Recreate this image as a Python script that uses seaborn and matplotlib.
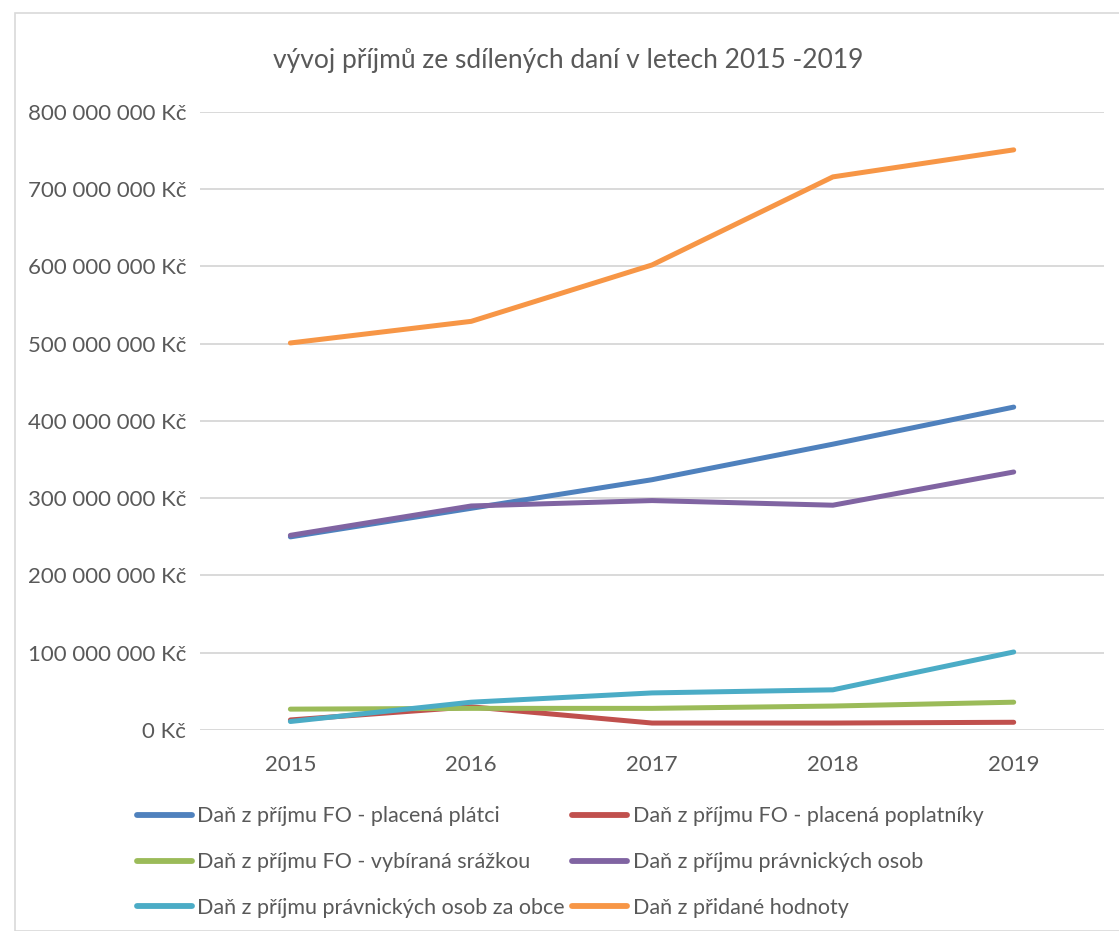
import pandas as pd
import seaborn as sns
import matplotlib.pyplot as plt
from matplotlib.ticker import FuncFormatter, MultipleLocator
from matplotlib.patches import Rectangle

# ---------------- DATA ----------------
years = ["2015", "2016", "2017", "2018", "2019"]
fo_platci = [250e6, 287e6, 324e6, 370e6, 418e6]
fo_poplatnici = [13e6, 30e6, 9e6, 9e6, 10e6]
fo_srazkou = [27e6, 28e6, 28e6, 31e6, 36e6]
pravnicke = [252e6, 290e6, 297e6, 291e6, 334e6]
pravnicke_obce = [11e6, 36e6, 48e6, 52e6, 101e6]
dph = [501e6, 529e6, 602e6, 716e6, 751e6]

series_names = [
    "Daň z příjmu FO - placená plátci",
    "Daň z příjmu FO - placená poplatníky",
    "Daň z příjmu FO - vybíraná srážkou",
    "Daň z příjmu právnických osob",
    "Daň z příjmu právnických osob za obce",
    "Daň z přidané hodnoty",
]
series_values = [fo_platci, fo_poplatnici, fo_srazkou, pravnicke, pravnicke_obce, dph]
colors = ["#4F81BD", "#C0504D", "#9BBB59", "#8064A2", "#4BACC6", "#F79646"]
# --------------------------------------

rows = []
for name, vals in zip(series_names, series_values):
    for yr, v in zip(years, vals):
        rows.append({"rok": yr, "hodnota": v, "serie": name})
df = pd.DataFrame(rows)

sns.set_style("white")
plt.rcParams["font.family"] = ["Lato", "DejaVu Sans"]

fig = plt.figure(figsize=(11.19, 9.31), dpi=100)
ax = fig.add_axes([0.1787, 0.2159, 0.808, 0.6638])

sns.lineplot(data=df, x="rok", y="hodnota", hue="serie", hue_order=series_names,
             palette=colors, linewidth=3.6, ax=ax, legend=False, sort=False)

ax.set_xlim(-0.5, 4.5)
ax.set_ylim(0, 800e6)
ax.yaxis.set_major_locator(MultipleLocator(100e6))
ax.yaxis.set_major_formatter(FuncFormatter(
    lambda v, p: "0 Kč" if v == 0 else f"{int(v):,} Kč".replace(",", " ")))
ax.grid(axis="y", color="#D9D9D9", linewidth=1.4)
ax.set_axisbelow(True)
for s in ax.spines.values():
    s.set_visible(False)
ax.tick_params(axis="both", length=0, labelsize=16, labelcolor="#595959")
ax.tick_params(axis="y", pad=10)
ax.tick_params(axis="x", pad=18)
ax.set_xlabel("")
ax.set_ylabel("")

fig.text(0.508, 0.935, "vývoj příjmů ze sdílených daní v letech 2015 -2019",
         ha="center", va="center", fontsize=19, color="#595959")

# legend - row-wise order like the original
handles = [plt.Line2D([], [], color=c, linewidth=4.2) for c in colors]
order = [0, 2, 4, 1, 3, 5]
fig.legend([handles[i] for i in order], [series_names[i] for i in order],
           ncol=2, loc="upper left", bbox_to_anchor=(0.1224, 0.134),
           frameon=False, fontsize=15.5, handlelength=2.55, handletextpad=0.25,
           columnspacing=0.35, labelspacing=1.2, borderpad=0, borderaxespad=0,
           labelcolor="#595959")

# light border around the chart area
fig.patches.append(Rectangle((15 / 1119, 0), 1.2, 1 - 13 / 931, transform=fig.transFigure,
                             fill=False, edgecolor="#D9D9D9", linewidth=1.2))

plt.savefig("out.png", dpi=100)
plt.close()
